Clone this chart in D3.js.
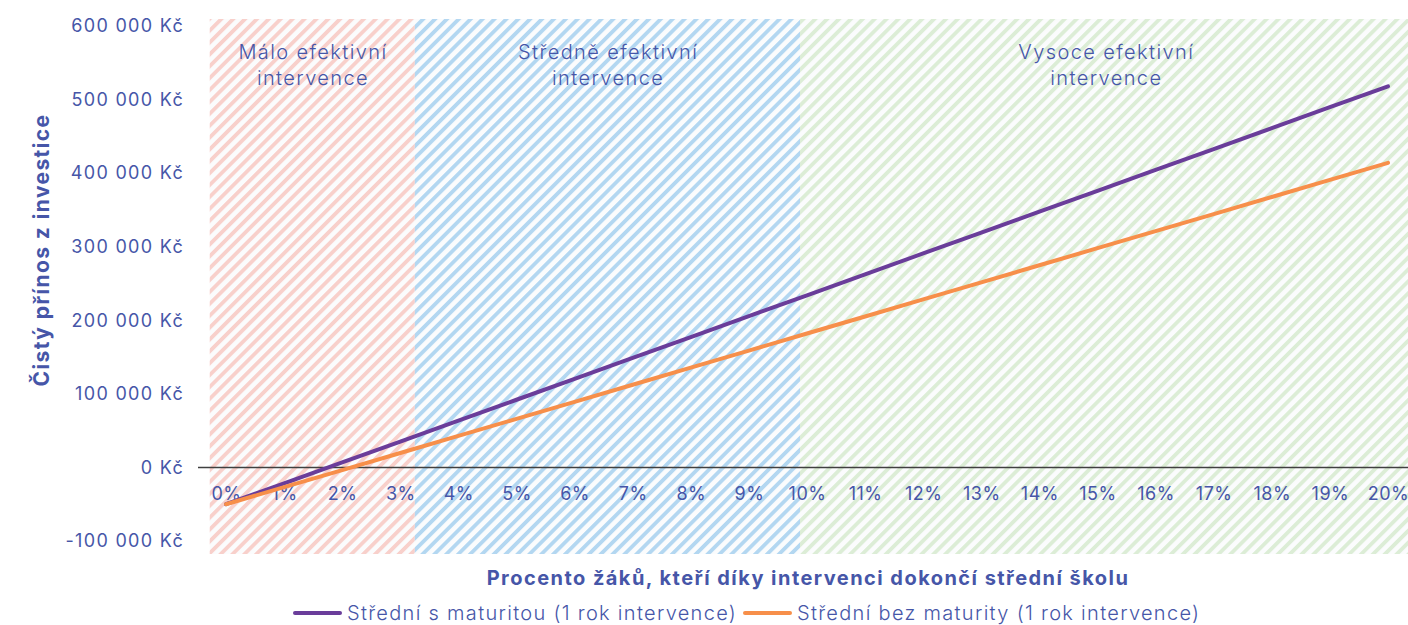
<!DOCTYPE html>
<html>
<head>
<meta charset="utf-8">
<script src="https://cdn.jsdelivr.net/npm/d3@7"></script>
<style>
  body { margin: 0; background: #fff; }
  svg { display: block; font-family: "Inter", "Noto Sans", sans-serif; }
</style>
</head>
<body>
<div id="chart"></div>
<script>
// Data
var percents = [0, 1, 2, 3, 4, 5, 6, 7, 8, 9, 10, 11, 12, 13, 14, 15, 16, 17, 18, 19, 20];
var maturita = [-50000, -21600, 6800, 35200, 63600, 92000, 120400, 148800, 177200, 205600, 234000,
                262400, 290800, 319200, 347600, 376000, 404400, 432800, 461200, 489600, 518000];
var bezMaturity = [-50000, -26800, -3600, 19600, 42800, 66000, 89200, 112400, 135600, 158800, 182000,
                   205200, 228400, 251600, 274800, 298000, 321200, 344400, 367600, 390800, 414000];
var seriesNames = ["Střední s maturitou (1 rok intervence)", "Střední bez maturity (1 rok intervence)"];
var yTicks = [-100000, 0, 100000, 200000, 300000, 400000, 500000, 600000];

// effectiveness zones (in % of pupils)
var zoneNames = [["Málo efektivní", "intervence"], ["Středně efektivní", "intervence"], ["Vysoce efektivní", "intervence"]];
var zoneStart = [-0.28, 3.25, 9.88];
var zoneEnd = [3.25, 9.88, 20.4];

var svgWidth = 1408;
var svgHeight = 625;
var textColor = "#4656a8";
var colors = ["#6a3d9a", "#f78f4a"];
var zoneColors = ["#f8d0cb", "#b3d7f1", "#dcedd6"];

var svg = d3.select("#chart")
    .append("svg")
    .attr("width", svgWidth)
    .attr("height", svgHeight);

// hatch patterns
var defs = svg.append("defs");
zoneColors.forEach(function(c, i) {
    var p = defs.append("pattern")
        .attr("id", "hatch" + i)
        .attr("patternUnits", "userSpaceOnUse")
        .attr("width", 8.4)
        .attr("height", 8.4)
        .attr("patternTransform", "rotate(45)");
    p.append("rect").attr("width", 8.4).attr("height", 8.4).attr("fill", "#fbfcfd");
    p.append("rect").attr("x", 0).attr("width", 3.8).attr("height", 8.4).attr("fill", c);
});

var xScale = d3.scaleLinear()
    .domain([0, 20])
    .range([226, 1388]);

var yScale = d3.scaleLinear()
    .domain([-100000, 600000])
    .range([541, 26]);

var plotTop = 19;
var plotBottom = 554;

// zones
var zones = svg.append("g");
zoneStart.forEach(function(s, i) {
    zones.append("rect")
        .attr("x", xScale(s))
        .attr("y", plotTop)
        .attr("width", xScale(zoneEnd[i]) - xScale(s))
        .attr("height", plotBottom - plotTop)
        .attr("fill", "url(#hatch" + i + ")");
    var cx = (xScale(s) + xScale(zoneEnd[i])) / 2;
    var t = zones.append("text")
        .attr("y", 59)
        .attr("text-anchor", "middle")
        .attr("font-size", "20px")
        .attr("font-weight", 300)
        .attr("letter-spacing", "1.4px")
        .attr("fill", textColor);
    zoneNames[i].forEach(function(line, j) {
        t.append("tspan")
            .attr("x", cx + 0.7)
            .attr("dy", j === 0 ? 0 : 26)
            .text(line);
    });
});

// zero line
svg.append("line")
    .attr("x1", 198)
    .attr("x2", 1408)
    .attr("y1", yScale(0))
    .attr("y2", yScale(0))
    .attr("stroke", "#404040")
    .attr("stroke-width", 1.5);

// y axis
var fmt = function(d) { return d3.format(",")(d).replace(/,/g, " ").replace("−", "-") + " Kč"; };
var leftAxis = d3.axisLeft(yScale).tickValues(yTicks).tickSize(0).tickPadding(14).tickFormat(fmt);
var yAxisG = svg.append("g")
    .attr("transform", "translate(198,0)")
    .call(leftAxis);
yAxisG.select(".domain").remove();
yAxisG.selectAll("text")
    .attr("font-size", "18px")
    .attr("font-family", "Inter, sans-serif")
    .attr("letter-spacing", "1.3px")
    .attr("fill", textColor);

// x axis
var bottomAxis = d3.axisBottom(xScale).tickValues(percents).tickSize(0).tickPadding(20)
    .tickFormat(function(d) { return d + "%"; });
var xAxisG = svg.append("g")
    .attr("transform", "translate(0," + yScale(0) + ")")
    .call(bottomAxis);
xAxisG.select(".domain").remove();
xAxisG.selectAll("text")
    .attr("font-size", "18px")
    .attr("font-family", "Inter, sans-serif")
    .attr("letter-spacing", "0.5px")
    .attr("fill", textColor);

// lines
var lineGen = d3.line()
    .x(function(d, i) { return xScale(percents[i]); })
    .y(function(d) { return yScale(d); });

[maturita, bezMaturity].forEach(function(s, i) {
    svg.append("path")
        .datum(s)
        .attr("fill", "none")
        .attr("stroke", colors[i])
        .attr("stroke-width", 4)
        .attr("stroke-linecap", "round")
        .attr("d", lineGen);
});

// axis titles
svg.append("text")
    .attr("transform", "translate(49,250) rotate(-90)")
    .attr("text-anchor", "middle")
    .attr("font-size", "21px")
    .attr("font-weight", "bold")
    .attr("letter-spacing", "1.4px")
    .attr("fill", textColor)
    .text("Čistý přínos z investice");

svg.append("text")
    .attr("x", 808)
    .attr("y", 585)
    .attr("text-anchor", "middle")
    .attr("font-size", "20px")
    .attr("font-weight", "bold")
    .attr("letter-spacing", "1.45px")
    .attr("fill", textColor)
    .text("Procento žáků, kteří díky intervenci dokončí střední školu");

// legend
var legend = svg.append("g");
var legendX = [295, 745];
seriesNames.forEach(function(name, i) {
    legend.append("line")
        .attr("x1", legendX[i])
        .attr("x2", legendX[i] + 45)
        .attr("y1", 613)
        .attr("y2", 613)
        .attr("stroke", colors[i])
        .attr("stroke-width", 4)
        .attr("stroke-linecap", "round");
    legend.append("text")
        .attr("x", legendX[i] + 52)
        .attr("y", 620)
        .attr("font-size", "20px")
        .attr("font-weight", 300)
        .attr("letter-spacing", "1.3px")
        .attr("fill", textColor)
        .text(name);
});
</script>
</body>
</html>
